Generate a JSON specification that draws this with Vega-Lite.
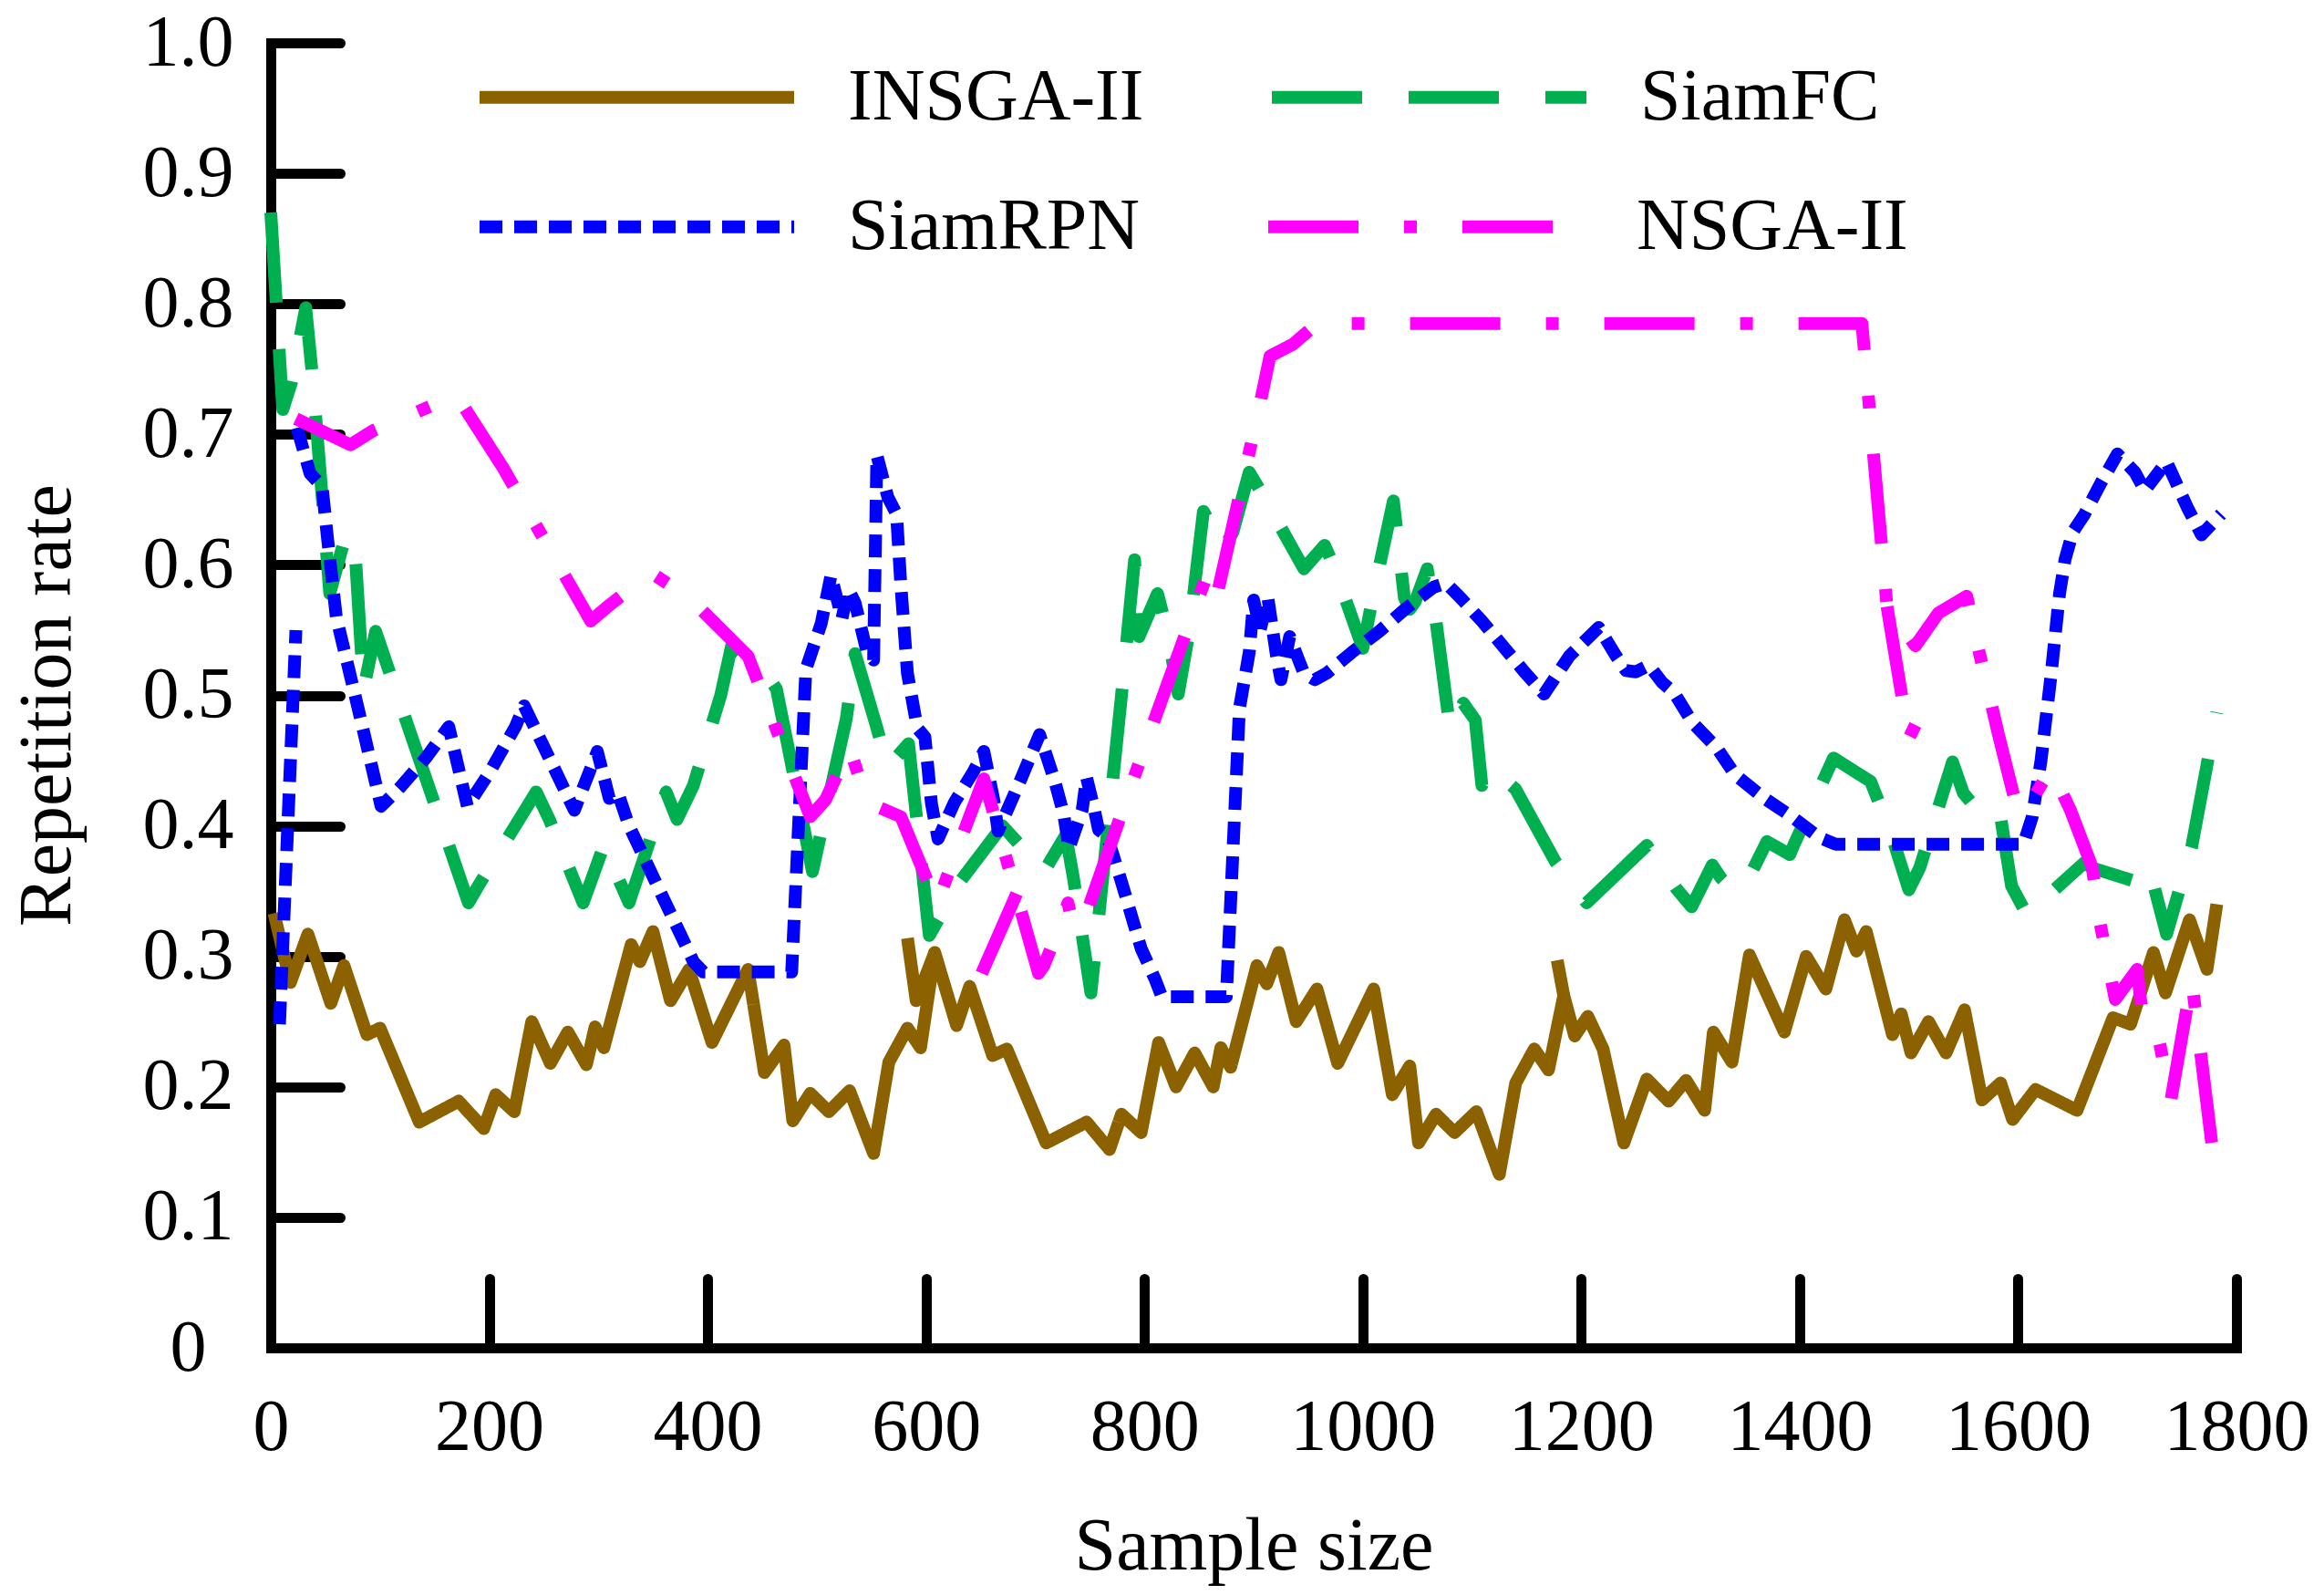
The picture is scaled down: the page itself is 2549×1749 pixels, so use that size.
{
"$schema":"https://vega.github.io/schema/vega-lite/v6.json",
"width":2156,"height":1431,
"autosize":{"type":"none"},
"padding":{"left":297,"top":47,"right":96,"bottom":271},
"background":"white",
"data":{"values":[
{"s":"INSGA-II","p":"a","x":3,"y":0.333},{"s":"INSGA-II","p":"a","x":18,"y":0.28},{"s":"INSGA-II","p":"a","x":34,"y":0.317},{"s":"INSGA-II","p":"a","x":55,"y":0.264},{"s":"INSGA-II","p":"a","x":67,"y":0.293},{"s":"INSGA-II","p":"a","x":88,"y":0.24},{"s":"INSGA-II","p":"a","x":100,"y":0.245},{"s":"INSGA-II","p":"a","x":136,"y":0.173},{"s":"INSGA-II","p":"a","x":172,"y":0.189},{"s":"INSGA-II","p":"a","x":195,"y":0.168},{"s":"INSGA-II","p":"a","x":206,"y":0.194},{"s":"INSGA-II","p":"a","x":223,"y":0.181},{"s":"INSGA-II","p":"a","x":239,"y":0.25},{"s":"INSGA-II","p":"a","x":256,"y":0.218},{"s":"INSGA-II","p":"a","x":272,"y":0.242},{"s":"INSGA-II","p":"a","x":289,"y":0.217},{"s":"INSGA-II","p":"a","x":297,"y":0.246},{"s":"INSGA-II","p":"a","x":305,"y":0.23},{"s":"INSGA-II","p":"a","x":330,"y":0.309},{"s":"INSGA-II","p":"a","x":338,"y":0.296},{"s":"INSGA-II","p":"a","x":350,"y":0.319},{"s":"INSGA-II","p":"a","x":366,"y":0.266},{"s":"INSGA-II","p":"a","x":383,"y":0.29},{"s":"INSGA-II","p":"a","x":404,"y":0.234},{"s":"INSGA-II","p":"a","x":437,"y":0.29},{"s":"INSGA-II","p":"a","x":452,"y":0.211},{"s":"INSGA-II","p":"a","x":470,"y":0.232},{"s":"INSGA-II","p":"a","x":478,"y":0.174},{"s":"INSGA-II","p":"a","x":494,"y":0.195},{"s":"INSGA-II","p":"a","x":511,"y":0.181},{"s":"INSGA-II","p":"a","x":530,"y":0.197},{"s":"INSGA-II","p":"a","x":552,"y":0.149},{"s":"INSGA-II","p":"a","x":566,"y":0.219},{"s":"INSGA-II","p":"a","x":583,"y":0.245},{"s":"INSGA-II","p":"a","x":595,"y":0.23},{"s":"INSGA-II","p":"a","x":608,"y":0.303},{"s":"INSGA-II","p":"a","x":628,"y":0.247},{"s":"INSGA-II","p":"a","x":640,"y":0.277},{"s":"INSGA-II","p":"a","x":661,"y":0.224},{"s":"INSGA-II","p":"a","x":674,"y":0.229},{"s":"INSGA-II","p":"a","x":710,"y":0.157},{"s":"INSGA-II","p":"a","x":747,"y":0.173},{"s":"INSGA-II","p":"a","x":768,"y":0.152},{"s":"INSGA-II","p":"a","x":779,"y":0.179},{"s":"INSGA-II","p":"a","x":797,"y":0.165},{"s":"INSGA-II","p":"a","x":813,"y":0.234},{"s":"INSGA-II","p":"a","x":829,"y":0.2},{"s":"INSGA-II","p":"a","x":846,"y":0.226},{"s":"INSGA-II","p":"a","x":863,"y":0.2},{"s":"INSGA-II","p":"a","x":870,"y":0.23},{"s":"INSGA-II","p":"a","x":879,"y":0.215},{"s":"INSGA-II","p":"a","x":903,"y":0.293},{"s":"INSGA-II","p":"a","x":912,"y":0.279},{"s":"INSGA-II","p":"a","x":923,"y":0.303},{"s":"INSGA-II","p":"a","x":939,"y":0.25},{"s":"INSGA-II","p":"a","x":958,"y":0.275},{"s":"INSGA-II","p":"a","x":977,"y":0.218},{"s":"INSGA-II","p":"a","x":1010,"y":0.275},{"s":"INSGA-II","p":"a","x":1027,"y":0.194},{"s":"INSGA-II","p":"a","x":1043,"y":0.216},{"s":"INSGA-II","p":"a","x":1051,"y":0.157},{"s":"INSGA-II","p":"a","x":1067,"y":0.179},{"s":"INSGA-II","p":"a","x":1084,"y":0.165},{"s":"INSGA-II","p":"a","x":1104,"y":0.181},{"s":"INSGA-II","p":"a","x":1125,"y":0.133},{"s":"INSGA-II","p":"a","x":1140,"y":0.203},{"s":"INSGA-II","p":"a","x":1157,"y":0.229},{"s":"INSGA-II","p":"a","x":1170,"y":0.213},{"s":"INSGA-II","p":"a","x":1184,"y":0.27},{"s":"INSGA-II","p":"a","x":1194,"y":0.239},{"s":"INSGA-II","p":"a","x":1206,"y":0.254},{"s":"INSGA-II","p":"a","x":1220,"y":0.229},{"s":"INSGA-II","p":"a","x":1239,"y":0.157},{"s":"INSGA-II","p":"a","x":1260,"y":0.206},{"s":"INSGA-II","p":"a","x":1280,"y":0.189},{"s":"INSGA-II","p":"a","x":1296,"y":0.205},{"s":"INSGA-II","p":"a","x":1313,"y":0.182},{"s":"INSGA-II","p":"a","x":1321,"y":0.242},{"s":"INSGA-II","p":"a","x":1338,"y":0.219},{"s":"INSGA-II","p":"a","x":1354,"y":0.301},{"s":"INSGA-II","p":"a","x":1386,"y":0.242},{"s":"INSGA-II","p":"a","x":1406,"y":0.3},{"s":"INSGA-II","p":"a","x":1424,"y":0.275},{"s":"INSGA-II","p":"a","x":1441,"y":0.328},{"s":"INSGA-II","p":"a","x":1452,"y":0.304},{"s":"INSGA-II","p":"a","x":1461,"y":0.319},{"s":"INSGA-II","p":"a","x":1485,"y":0.24},{"s":"INSGA-II","p":"a","x":1493,"y":0.256},{"s":"INSGA-II","p":"a","x":1502,"y":0.226},{"s":"INSGA-II","p":"a","x":1518,"y":0.25},{"s":"INSGA-II","p":"a","x":1534,"y":0.226},{"s":"INSGA-II","p":"a","x":1551,"y":0.259},{"s":"INSGA-II","p":"a","x":1567,"y":0.19},{"s":"INSGA-II","p":"a","x":1584,"y":0.203},{"s":"INSGA-II","p":"a","x":1595,"y":0.175},{"s":"INSGA-II","p":"a","x":1616,"y":0.198},{"s":"INSGA-II","p":"a","x":1654,"y":0.182},{"s":"INSGA-II","p":"a","x":1687,"y":0.253},{"s":"INSGA-II","p":"a","x":1703,"y":0.248},{"s":"INSGA-II","p":"a","x":1724,"y":0.303},{"s":"INSGA-II","p":"a","x":1735,"y":0.272},{"s":"INSGA-II","p":"a","x":1757,"y":0.328},{"s":"INSGA-II","p":"a","x":1773,"y":0.29},{"s":"INSGA-II","p":"a","x":1782,"y":0.34},
{"s":"INSGA-II","p":"b","x":583,"y":0.314},{"s":"INSGA-II","p":"b","x":591,"y":0.266},{"s":"INSGA-II","p":"b","x":608,"y":0.303},
{"s":"INSGA-II","p":"c","x":1178,"y":0.297},{"s":"INSGA-II","p":"c","x":1184,"y":0.27},
{"s":"SiamFC","p":"a","x":0,"y":0.87},{"s":"SiamFC","p":"a","x":11,"y":0.719},{"s":"SiamFC","p":"a","x":19,"y":0.74},{"s":"SiamFC","p":"a","x":32,"y":0.797},{"s":"SiamFC","p":"a","x":38,"y":0.746},{"s":"SiamFC","p":"a","x":48,"y":0.642},{"s":"SiamFC","p":"a","x":54,"y":0.578},{"s":"SiamFC","p":"a","x":69,"y":0.624},{"s":"SiamFC","p":"a","x":77,"y":0.613},{"s":"SiamFC","p":"a","x":85,"y":0.505},{"s":"SiamFC","p":"a","x":96,"y":0.549},{"s":"SiamFC","p":"a","x":181,"y":0.341},{"s":"SiamFC","p":"a","x":190,"y":0.354},{"s":"SiamFC","p":"a","x":243,"y":0.426},{"s":"SiamFC","p":"a","x":255,"y":0.405},{"s":"SiamFC","p":"a","x":286,"y":0.341},{"s":"SiamFC","p":"a","x":305,"y":0.385},{"s":"SiamFC","p":"a","x":328,"y":0.341},{"s":"SiamFC","p":"a","x":362,"y":0.426},{"s":"SiamFC","p":"a","x":372,"y":0.405},{"s":"SiamFC","p":"a","x":387,"y":0.431},{"s":"SiamFC","p":"a","x":412,"y":0.5},{"s":"SiamFC","p":"a","x":422,"y":0.538},{"s":"SiamFC","p":"a","x":455,"y":0.515},{"s":"SiamFC","p":"a","x":463,"y":0.505},{"s":"SiamFC","p":"a","x":475,"y":0.455},{"s":"SiamFC","p":"a","x":496,"y":0.365},{"s":"SiamFC","p":"a","x":527,"y":0.482},{"s":"SiamFC","p":"a","x":535,"y":0.532},{"s":"SiamFC","p":"a","x":554,"y":0.478},{"s":"SiamFC","p":"a","x":565,"y":0.445},{"s":"SiamFC","p":"a","x":584,"y":0.463},{"s":"SiamFC","p":"a","x":603,"y":0.316},{"s":"SiamFC","p":"a","x":630,"y":0.356},{"s":"SiamFC","p":"a","x":670,"y":0.4},{"s":"SiamFC","p":"a","x":708,"y":0.365},{"s":"SiamFC","p":"a","x":728,"y":0.393},{"s":"SiamFC","p":"a","x":735,"y":0.36},{"s":"SiamFC","p":"a","x":751,"y":0.272},{"s":"SiamFC","p":"a","x":779,"y":0.5},{"s":"SiamFC","p":"a","x":791,"y":0.604},{"s":"SiamFC","p":"a","x":795,"y":0.545},{"s":"SiamFC","p":"a","x":812,"y":0.578},{"s":"SiamFC","p":"a","x":821,"y":0.549},{"s":"SiamFC","p":"a","x":831,"y":0.501},{"s":"SiamFC","p":"a","x":841,"y":0.549},{"s":"SiamFC","p":"a","x":854,"y":0.641},{"s":"SiamFC","p":"a","x":864,"y":0.626},{"s":"SiamFC","p":"a","x":872,"y":0.612},{"s":"SiamFC","p":"a","x":881,"y":0.625},{"s":"SiamFC","p":"a","x":896,"y":0.671},{"s":"SiamFC","p":"a","x":906,"y":0.657},{"s":"SiamFC","p":"a","x":946,"y":0.597},{"s":"SiamFC","p":"a","x":965,"y":0.615},{"s":"SiamFC","p":"a","x":973,"y":0.6},{"s":"SiamFC","p":"a","x":1000,"y":0.536},{"s":"SiamFC","p":"a","x":1009,"y":0.575},{"s":"SiamFC","p":"a","x":1028,"y":0.649},{"s":"SiamFC","p":"a","x":1038,"y":0.575},{"s":"SiamFC","p":"a","x":1043,"y":0.566},{"s":"SiamFC","p":"a","x":1048,"y":0.572},{"s":"SiamFC","p":"a","x":1059,"y":0.597},{"s":"SiamFC","p":"a","x":1067,"y":0.557},{"s":"SiamFC","p":"a","x":1080,"y":0.473},{"s":"SiamFC","p":"a","x":1092,"y":0.494},{"s":"SiamFC","p":"a","x":1103,"y":0.481},{"s":"SiamFC","p":"a","x":1109,"y":0.431},{"s":"SiamFC","p":"a","x":1117,"y":0.445},{"s":"SiamFC","p":"a","x":1140,"y":0.428},{"s":"SiamFC","p":"a","x":1176,"y":0.373},{"s":"SiamFC","p":"a","x":1205,"y":0.341},{"s":"SiamFC","p":"a","x":1260,"y":0.385},{"s":"SiamFC","p":"a","x":1287,"y":0.352},{"s":"SiamFC","p":"a","x":1301,"y":0.338},{"s":"SiamFC","p":"a","x":1320,"y":0.37},{"s":"SiamFC","p":"a","x":1328,"y":0.36},{"s":"SiamFC","p":"a","x":1340,"y":0.35},{"s":"SiamFC","p":"a","x":1351,"y":0.356},{"s":"SiamFC","p":"a","x":1370,"y":0.388},{"s":"SiamFC","p":"a","x":1391,"y":0.378},{"s":"SiamFC","p":"a","x":1395,"y":0.386},{"s":"SiamFC","p":"a","x":1431,"y":0.452},{"s":"SiamFC","p":"a","x":1465,"y":0.434},{"s":"SiamFC","p":"a","x":1483,"y":0.396},{"s":"SiamFC","p":"a","x":1500,"y":0.351},{"s":"SiamFC","p":"a","x":1510,"y":0.368},{"s":"SiamFC","p":"a","x":1540,"y":0.449},{"s":"SiamFC","p":"a","x":1550,"y":0.425},{"s":"SiamFC","p":"a","x":1573,"y":0.402},{"s":"SiamFC","p":"a","x":1584,"y":0.407},{"s":"SiamFC","p":"a","x":1594,"y":0.354},{"s":"SiamFC","p":"a","x":1608,"y":0.332},{"s":"SiamFC","p":"a","x":1661,"y":0.372},{"s":"SiamFC","p":"a","x":1667,"y":0.368},{"s":"SiamFC","p":"a","x":1709,"y":0.357},{"s":"SiamFC","p":"a","x":1720,"y":0.368},{"s":"SiamFC","p":"a","x":1736,"y":0.317},{"s":"SiamFC","p":"a","x":1759,"y":0.384},{"s":"SiamFC","p":"a","x":1782,"y":0.487},
{"s":"SiamRPN","p":"b","x":8,"y":0.248},{"s":"SiamRPN","p":"b","x":23,"y":0.55},
{"s":"SiamRPN","p":"a","x":24,"y":0.705},{"s":"SiamRPN","p":"a","x":36,"y":0.67},{"s":"SiamRPN","p":"a","x":47,"y":0.66},{"s":"SiamRPN","p":"a","x":52,"y":0.62},{"s":"SiamRPN","p":"a","x":60,"y":0.56},{"s":"SiamRPN","p":"a","x":70,"y":0.525},{"s":"SiamRPN","p":"a","x":80,"y":0.49},{"s":"SiamRPN","p":"a","x":101,"y":0.415},{"s":"SiamRPN","p":"a","x":119,"y":0.43},{"s":"SiamRPN","p":"a","x":142,"y":0.452},{"s":"SiamRPN","p":"a","x":163,"y":0.476},{"s":"SiamRPN","p":"a","x":180,"y":0.415},{"s":"SiamRPN","p":"a","x":201,"y":0.442},{"s":"SiamRPN","p":"a","x":224,"y":0.476},{"s":"SiamRPN","p":"a","x":232,"y":0.492},{"s":"SiamRPN","p":"a","x":278,"y":0.412},{"s":"SiamRPN","p":"a","x":299,"y":0.457},{"s":"SiamRPN","p":"a","x":310,"y":0.421},{"s":"SiamRPN","p":"a","x":318,"y":0.425},{"s":"SiamRPN","p":"a","x":328,"y":0.4},{"s":"SiamRPN","p":"a","x":387,"y":0.296},{"s":"SiamRPN","p":"a","x":396,"y":0.288},{"s":"SiamRPN","p":"a","x":477,"y":0.288},{"s":"SiamRPN","p":"a","x":490,"y":0.52},{"s":"SiamRPN","p":"a","x":504,"y":0.555},{"s":"SiamRPN","p":"a","x":513,"y":0.592},{"s":"SiamRPN","p":"a","x":523,"y":0.559},{"s":"SiamRPN","p":"a","x":529,"y":0.581},{"s":"SiamRPN","p":"a","x":535,"y":0.571},{"s":"SiamRPN","p":"a","x":546,"y":0.533},{"s":"SiamRPN","p":"a","x":552,"y":0.527},{"s":"SiamRPN","p":"a","x":555,"y":0.684},{"s":"SiamRPN","p":"a","x":565,"y":0.652},{"s":"SiamRPN","p":"a","x":573,"y":0.639},{"s":"SiamRPN","p":"a","x":577,"y":0.584},{"s":"SiamRPN","p":"a","x":583,"y":0.517},{"s":"SiamRPN","p":"a","x":592,"y":0.475},{"s":"SiamRPN","p":"a","x":599,"y":0.468},{"s":"SiamRPN","p":"a","x":605,"y":0.417},{"s":"SiamRPN","p":"a","x":611,"y":0.39},{"s":"SiamRPN","p":"a","x":626,"y":0.418},{"s":"SiamRPN","p":"a","x":643,"y":0.441},{"s":"SiamRPN","p":"a","x":653,"y":0.457},{"s":"SiamRPN","p":"a","x":662,"y":0.42},{"s":"SiamRPN","p":"a","x":666,"y":0.396},{"s":"SiamRPN","p":"a","x":687,"y":0.436},{"s":"SiamRPN","p":"a","x":704,"y":0.47},{"s":"SiamRPN","p":"a","x":718,"y":0.434},{"s":"SiamRPN","p":"a","x":726,"y":0.409},{"s":"SiamRPN","p":"a","x":731,"y":0.383},{"s":"SiamRPN","p":"a","x":743,"y":0.412},{"s":"SiamRPN","p":"a","x":747,"y":0.437},{"s":"SiamRPN","p":"a","x":754,"y":0.413},{"s":"SiamRPN","p":"a","x":758,"y":0.397},{"s":"SiamRPN","p":"a","x":766,"y":0.392},{"s":"SiamRPN","p":"a","x":779,"y":0.357},{"s":"SiamRPN","p":"a","x":797,"y":0.306},{"s":"SiamRPN","p":"a","x":810,"y":0.282},{"s":"SiamRPN","p":"a","x":816,"y":0.269},{"s":"SiamRPN","p":"a","x":875,"y":0.269},{"s":"SiamRPN","p":"a","x":887,"y":0.49},{"s":"SiamRPN","p":"a","x":896,"y":0.533},{"s":"SiamRPN","p":"a","x":900,"y":0.573},{"s":"SiamRPN","p":"a","x":906,"y":0.55},{"s":"SiamRPN","p":"a","x":913,"y":0.575},{"s":"SiamRPN","p":"a","x":921,"y":0.53},{"s":"SiamRPN","p":"a","x":925,"y":0.512},{"s":"SiamRPN","p":"a","x":933,"y":0.545},{"s":"SiamRPN","p":"a","x":946,"y":0.517},{"s":"SiamRPN","p":"a","x":956,"y":0.512},{"s":"SiamRPN","p":"a","x":967,"y":0.517},{"s":"SiamRPN","p":"a","x":990,"y":0.533},{"s":"SiamRPN","p":"a","x":1015,"y":0.549},{"s":"SiamRPN","p":"a","x":1040,"y":0.567},{"s":"SiamRPN","p":"a","x":1065,"y":0.583},{"s":"SiamRPN","p":"a","x":1076,"y":0.586},{"s":"SiamRPN","p":"a","x":1088,"y":0.576},{"s":"SiamRPN","p":"a","x":1109,"y":0.557},{"s":"SiamRPN","p":"a","x":1130,"y":0.536},{"s":"SiamRPN","p":"a","x":1149,"y":0.517},{"s":"SiamRPN","p":"a","x":1166,"y":0.501},{"s":"SiamRPN","p":"a","x":1189,"y":0.53},{"s":"SiamRPN","p":"a","x":1216,"y":0.552},{"s":"SiamRPN","p":"a","x":1232,"y":0.53},{"s":"SiamRPN","p":"a","x":1241,"y":0.519},{"s":"SiamRPN","p":"a","x":1250,"y":0.518},{"s":"SiamRPN","p":"a","x":1262,"y":0.523},{"s":"SiamRPN","p":"a","x":1274,"y":0.51},{"s":"SiamRPN","p":"a","x":1285,"y":0.502},{"s":"SiamRPN","p":"a","x":1302,"y":0.479},{"s":"SiamRPN","p":"a","x":1324,"y":0.46},{"s":"SiamRPN","p":"a","x":1341,"y":0.439},{"s":"SiamRPN","p":"a","x":1368,"y":0.421},{"s":"SiamRPN","p":"a","x":1393,"y":0.407},{"s":"SiamRPN","p":"a","x":1418,"y":0.391},{"s":"SiamRPN","p":"a","x":1433,"y":0.386},{"s":"SiamRPN","p":"a","x":1605,"y":0.386},{"s":"SiamRPN","p":"a","x":1613,"y":0.407},{"s":"SiamRPN","p":"a","x":1621,"y":0.45},{"s":"SiamRPN","p":"a","x":1630,"y":0.514},{"s":"SiamRPN","p":"a","x":1638,"y":0.578},{"s":"SiamRPN","p":"a","x":1643,"y":0.604},{"s":"SiamRPN","p":"a","x":1650,"y":0.625},{"s":"SiamRPN","p":"a","x":1661,"y":0.639},{"s":"SiamRPN","p":"a","x":1676,"y":0.663},{"s":"SiamRPN","p":"a","x":1691,"y":0.685},{"s":"SiamRPN","p":"a","x":1707,"y":0.671},{"s":"SiamRPN","p":"a","x":1716,"y":0.657},{"s":"SiamRPN","p":"a","x":1736,"y":0.679},{"s":"SiamRPN","p":"a","x":1755,"y":0.644},{"s":"SiamRPN","p":"a","x":1768,"y":0.623},{"s":"SiamRPN","p":"a","x":1786,"y":0.639},
{"s":"NSGA-II","p":"a","x":23,"y":0.712},{"s":"NSGA-II","p":"a","x":73,"y":0.692},{"s":"NSGA-II","p":"a","x":94,"y":0.703},{"s":"NSGA-II","p":"a","x":170,"y":0.73},{"s":"NSGA-II","p":"a","x":213,"y":0.674},{"s":"NSGA-II","p":"a","x":293,"y":0.557},{"s":"NSGA-II","p":"a","x":307,"y":0.567},{"s":"NSGA-II","p":"a","x":348,"y":0.594},{"s":"NSGA-II","p":"a","x":383,"y":0.575},{"s":"NSGA-II","p":"a","x":437,"y":0.53},{"s":"NSGA-II","p":"a","x":494,"y":0.407},{"s":"NSGA-II","p":"a","x":508,"y":0.42},{"s":"NSGA-II","p":"a","x":530,"y":0.46},{"s":"NSGA-II","p":"a","x":546,"y":0.418},{"s":"NSGA-II","p":"a","x":577,"y":0.407},{"s":"NSGA-II","p":"a","x":610,"y":0.34},{"s":"NSGA-II","p":"a","x":628,"y":0.381},{"s":"NSGA-II","p":"a","x":653,"y":0.436},{"s":"NSGA-II","p":"a","x":703,"y":0.287},{"s":"NSGA-II","p":"a","x":708,"y":0.293},{"s":"NSGA-II","p":"a","x":722,"y":0.322},{"s":"NSGA-II","p":"a","x":730,"y":0.341},{"s":"NSGA-II","p":"a","x":735,"y":0.322},{"s":"NSGA-II","p":"a","x":747,"y":0.333},{"s":"NSGA-II","p":"a","x":806,"y":0.474},{"s":"NSGA-II","p":"a","x":858,"y":0.594},{"s":"NSGA-II","p":"a","x":866,"y":0.575},{"s":"NSGA-II","p":"a","x":904,"y":0.716},{"s":"NSGA-II","p":"a","x":915,"y":0.76},{"s":"NSGA-II","p":"a","x":936,"y":0.769},{"s":"NSGA-II","p":"a","x":958,"y":0.785},{"s":"NSGA-II","p":"a","x":1457,"y":0.785},{"s":"NSGA-II","p":"a","x":1480,"y":0.568},{"s":"NSGA-II","p":"a","x":1506,"y":0.538},{"s":"NSGA-II","p":"a","x":1527,"y":0.563},{"s":"NSGA-II","p":"a","x":1553,"y":0.576},{"s":"NSGA-II","p":"a","x":1565,"y":0.531},{"s":"NSGA-II","p":"a","x":1582,"y":0.47},{"s":"NSGA-II","p":"a","x":1600,"y":0.41},{"s":"NSGA-II","p":"a","x":1613,"y":0.42},{"s":"NSGA-II","p":"a","x":1630,"y":0.444},{"s":"NSGA-II","p":"a","x":1648,"y":0.412},{"s":"NSGA-II","p":"a","x":1668,"y":0.368},{"s":"NSGA-II","p":"a","x":1674,"y":0.33},{"s":"NSGA-II","p":"a","x":1689,"y":0.267},{"s":"NSGA-II","p":"a","x":1709,"y":0.29},{"s":"NSGA-II","p":"a","x":1713,"y":0.261},{"s":"NSGA-II","p":"a","x":1724,"y":0.253},{"s":"NSGA-II","p":"a","x":1730,"y":0.232},{"s":"NSGA-II","p":"a","x":1740,"y":0.19},{"s":"NSGA-II","p":"a","x":1759,"y":0.282},{"s":"NSGA-II","p":"a","x":1781,"y":0.132},
{"s":"NSGA-II","p":"b","x":651,"y":0.287},{"s":"NSGA-II","p":"b","x":683,"y":0.348},
{"s":"NSGA-II","p":"c","x":1480,"y":0.568},{"s":"NSGA-II","p":"c","x":1500,"y":0.467},{"s":"NSGA-II","p":"c","x":1523,"y":0.507}
]},
"config":{
"view":{"stroke":null},
"font":"Liberation Serif",
"axis":{"grid":false,"domainColor":"black","domainWidth":11,"domainCap":"square","tickColor":"black","tickWidth":11,"tickSize":-76,"tickCap":"round","labelFont":"Liberation Serif","labelFontSize":80,"labelColor":"black","titleFont":"Liberation Serif","titleFontSize":82,"titleFontWeight":"normal","titleColor":"black","labelFlush":false,"labelOverlap":false},
"axisX":{"labelPadding":163,"labelBaseline":"middle","labelAlign":"center","titleY":242,"titleBaseline":"alphabetic"},
"axisY":{"labelPadding":167,"labelAlign":"center","labelBaseline":"middle","titleX":-221,"titleY":726,"titleBaseline":"alphabetic","titleAngle":-90},
"legend":{"orient":"none","legendX":222,"columns":2,"direction":"horizontal","symbolType":"stroke","symbolSize":119025,"symbolStrokeWidth":14,"symbolOpacity":1,"labelFont":"Liberation Serif","labelFontSize":80,"labelColor":"black","labelOffset":52,"columnPadding":112,"rowPadding":0,"padding":0,"labelLimit":2000}
},
"encoding":{
"x":{"field":"x","type":"quantitative","scale":{"domain":[0,1800],"nice":false,"zero":false},"axis":{"title":"Sample size","values":[0,200,400,600,800,1000,1200,1400,1600,1800],"format":"d"}},
"y":{"field":"y","type":"quantitative","scale":{"domain":[0,1],"nice":false},"axis":{"title":"Repetition rate","values":[0,0.1,0.2,0.3,0.4,0.5,0.6,0.7,0.8,0.9,1],"labelExpr":"datum.value == 0 ? '0' : format(datum.value, '.1f')"}},
"detail":{"field":"p","type":"nominal"}
},
"layer":[
{"transform":[{"filter":{"field":"s","oneOf":["INSGA-II","SiamFC"]}}],
"mark":{"type":"line","strokeWidth":14,"strokeCap":"butt","strokeJoin":"round"},
"encoding":{
"stroke":{"field":"s","type":"nominal","scale":{"domain":["INSGA-II","SiamFC"],"range":["#8C6100","#00B050"]},"legend":{"title":null,"legendY":-120}},
"strokeDash":{"field":"s","type":"nominal","scale":{"domain":["INSGA-II","SiamFC"],"range":[[1,0],[99,51]]},"legend":{"title":null,"legendY":-120}}
}},
{"transform":[{"filter":{"field":"s","oneOf":["SiamRPN","NSGA-II"]}}],
"mark":{"type":"line","strokeWidth":14,"strokeCap":"butt","strokeJoin":"round"},
"encoding":{
"color":{"field":"s","type":"nominal","scale":{"domain":["SiamRPN","NSGA-II"],"range":["#0000FF","#FF00FF"]},"legend":{"title":null,"legendY":22}},
"strokeDash":{"field":"s","type":"nominal","scale":{"domain":["SiamRPN","NSGA-II"],"range":[[25,13],[99,50,14,50]]},"legend":{"title":null,"legendY":22}}
}}
],
"resolve":{"scale":{"stroke":"independent","color":"independent","strokeDash":"independent"},"legend":{"stroke":"independent","color":"independent","strokeDash":"independent"}}
}
